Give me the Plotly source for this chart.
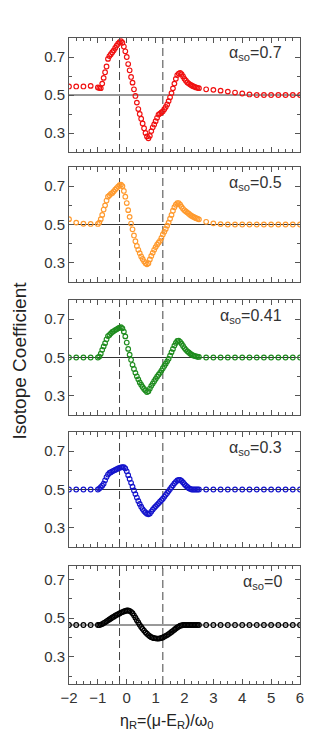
import plotly.graph_objects as go
from plotly.subplots import make_subplots

# shared x grid (eta_R)
eta = [
    -2.0, -1.75, -1.5, -1.25,
    -1.0, -0.95, -0.9, -0.85, -0.8, -0.75, -0.7, -0.65, -0.6, -0.55,
    -0.5, -0.45, -0.4, -0.35, -0.3, -0.25, -0.2, -0.15, -0.1, -0.05,
    0.0, 0.05, 0.1, 0.15, 0.2, 0.25, 0.3, 0.35, 0.4, 0.45,
    0.5, 0.55, 0.6, 0.65, 0.7, 0.75, 0.8, 0.85, 0.9, 0.95,
    1.0, 1.05, 1.1, 1.15, 1.2, 1.25, 1.3, 1.35, 1.4, 1.45,
    1.5, 1.55, 1.6, 1.65, 1.7, 1.75, 1.8, 1.85, 1.9, 1.95,
    2.0, 2.05, 2.1, 2.15, 2.2, 2.25, 2.3, 2.35, 2.4, 2.45, 2.5,
    2.75, 3.0, 3.25, 3.5, 3.75, 4.0, 4.25, 4.5, 4.75, 5.0, 5.25, 5.5, 5.75, 6.0,
]

alpha_07 = [
    0.545, 0.545, 0.545, 0.548,
    0.540, 0.537, 0.536, 0.560, 0.590, 0.620, 0.650, 0.690, 0.705, 0.715,
    0.725, 0.735, 0.748, 0.760, 0.770, 0.778, 0.783, 0.775, 0.755, 0.730,
    0.700, 0.663, 0.630, 0.595, 0.565, 0.530, 0.495, 0.460, 0.426, 0.400,
    0.375, 0.350, 0.325, 0.300, 0.282, 0.272, 0.285, 0.310, 0.330, 0.345,
    0.362, 0.380, 0.397, 0.402, 0.408, 0.414, 0.425, 0.437, 0.450, 0.468,
    0.488, 0.510, 0.535, 0.560, 0.585, 0.605, 0.613, 0.616, 0.610, 0.598,
    0.585, 0.575, 0.566, 0.560, 0.555, 0.550, 0.546, 0.543, 0.540, 0.538, 0.536,
    0.530, 0.527, 0.523, 0.518, 0.513, 0.508, 0.503, 0.500, 0.500, 0.500, 0.500, 0.500, 0.500, 0.500,
]

alpha_05 = [
    0.528, 0.510, 0.504, 0.503,
    0.503, 0.510, 0.528, 0.550, 0.578, 0.600, 0.625, 0.645, 0.652, 0.660,
    0.665, 0.673, 0.682, 0.690, 0.698, 0.705, 0.708, 0.700, 0.675, 0.645,
    0.612, 0.575, 0.540, 0.505, 0.475, 0.443, 0.413, 0.388, 0.368, 0.350,
    0.333, 0.320, 0.308, 0.298, 0.292, 0.298, 0.318, 0.336, 0.352, 0.368,
    0.382, 0.395, 0.405, 0.415, 0.430, 0.448, 0.462, 0.477, 0.494, 0.510,
    0.530, 0.550, 0.572, 0.590, 0.603, 0.612, 0.612, 0.603, 0.592, 0.582,
    0.574, 0.568, 0.562, 0.556, 0.550, 0.545, 0.541, 0.537, 0.533, 0.530, 0.527,
    0.514, 0.506, 0.502, 0.500, 0.500, 0.500, 0.500, 0.500, 0.500, 0.500, 0.500, 0.500, 0.500, 0.500,
]

alpha_041 = [
    0.500, 0.500, 0.500, 0.500,
    0.500, 0.505, 0.520, 0.540, 0.558, 0.575, 0.595, 0.612, 0.618, 0.626,
    0.633, 0.638, 0.643, 0.647, 0.652, 0.656, 0.658, 0.652, 0.635, 0.610,
    0.578, 0.545, 0.515, 0.488, 0.462, 0.440, 0.420, 0.402, 0.386, 0.370,
    0.358, 0.346, 0.336, 0.328, 0.320, 0.324, 0.338, 0.352, 0.364, 0.376,
    0.388, 0.400, 0.410, 0.420, 0.432, 0.444, 0.456, 0.468, 0.480, 0.493,
    0.510, 0.528, 0.545, 0.562, 0.576, 0.586, 0.588, 0.582, 0.572, 0.560,
    0.549, 0.540, 0.532, 0.526, 0.520, 0.515, 0.511, 0.508, 0.506, 0.504, 0.503,
    0.500, 0.500, 0.500, 0.500, 0.500, 0.500, 0.500, 0.500, 0.500, 0.500, 0.500, 0.500, 0.500, 0.500,
]

alpha_03 = [
    0.500, 0.500, 0.500, 0.500,
    0.500, 0.505, 0.512, 0.520, 0.530, 0.548, 0.565, 0.578, 0.586, 0.590,
    0.595, 0.599, 0.602, 0.606, 0.610, 0.613, 0.615, 0.617, 0.617, 0.610,
    0.595, 0.575, 0.555, 0.535, 0.515, 0.495, 0.476, 0.458, 0.440, 0.425,
    0.410, 0.398, 0.388, 0.380, 0.374, 0.371, 0.375, 0.385, 0.395, 0.404,
    0.412, 0.420, 0.428, 0.436, 0.444, 0.452, 0.462, 0.472, 0.482, 0.492,
    0.502, 0.512, 0.522, 0.532, 0.540, 0.547, 0.550, 0.550, 0.545, 0.537,
    0.528, 0.520, 0.513, 0.507, 0.503, 0.500, 0.500, 0.500, 0.500, 0.500, 0.500,
    0.500, 0.500, 0.500, 0.500, 0.500, 0.500, 0.500, 0.500, 0.500, 0.500, 0.500, 0.500, 0.500, 0.500,
]

alpha_0 = [
    0.465, 0.465, 0.465, 0.465,
    0.465, 0.465, 0.467, 0.470, 0.475, 0.479, 0.484, 0.489, 0.494, 0.499,
    0.504, 0.508, 0.513, 0.517, 0.521, 0.525, 0.529, 0.532, 0.535, 0.538,
    0.540, 0.540, 0.538, 0.533, 0.526, 0.515, 0.503, 0.490, 0.478, 0.466,
    0.455, 0.445, 0.436, 0.427, 0.420, 0.413, 0.407, 0.402, 0.399, 0.397,
    0.396, 0.395, 0.395, 0.396, 0.398, 0.401, 0.405, 0.409, 0.413, 0.418,
    0.423, 0.429, 0.435, 0.441, 0.447, 0.452, 0.457, 0.461, 0.463, 0.465,
    0.465, 0.465, 0.465, 0.465, 0.465, 0.465, 0.465, 0.465, 0.465, 0.465, 0.465,
    0.465, 0.465, 0.465, 0.465, 0.465, 0.465, 0.465, 0.465, 0.465, 0.465, 0.465, 0.465, 0.465, 0.465,
]

series = [alpha_07, alpha_05, alpha_041, alpha_03, alpha_0]
alpha_labels = ["0.7", "0.5", "0.41", "0.3", "0"]
colors = ["#f01010", "#ff9a2e", "#1e8c1e", "#1414cc", "#000000"]
ref_levels = [0.5, 0.5, 0.5, 0.5, 0.465]
y_ranges = [[0.2, 0.8], [0.2, 0.8], [0.2, 0.8], [0.2, 0.8], [0.16, 0.77]]
dashed_x = [-0.25, 1.25]

# panel pixel extents (top, bottom) inside a 744px tall page
PANEL_PX = [(30, 144), (159, 274), (292, 407), (424, 539), (558, 676)]
M_T, M_B = 30, 68
PLOT_H = 744 - M_T - M_B
AX = "#555555"

fig = make_subplots(rows=5, cols=1, shared_xaxes=True)

for i, (ys, col) in enumerate(zip(series, colors)):
    r = i + 1
    fig.add_trace(
        go.Scatter(
            x=eta, y=ys, mode="markers",
            marker=dict(symbol="circle-open", size=4.6, color=col, line=dict(width=1.2, color=col)),
            showlegend=False,
        ),
        row=r, col=1,
    )
    fig.add_hline(y=ref_levels[i], line_color="#333333", line_width=1, layer="below", row=r, col=1)
    for xd in dashed_x:
        fig.add_vline(x=xd, line_dash="8px,4px", line_color="#444444", line_width=1,
                      layer="below", row=r, col=1)

    top, bot = PANEL_PX[i]
    dom = [(744 - M_B - bot) / PLOT_H, (744 - M_B - top) / PLOT_H]
    yname = "yaxis" if r == 1 else f"yaxis{r}"
    xname = "xaxis" if r == 1 else f"xaxis{r}"
    fig.layout[yname].update(
        domain=dom, range=y_ranges[i], tick0=0.3, dtick=0.2,
        ticks="inside", ticklen=5, tickcolor=AX,
        minor=dict(dtick=0.1, ticklen=3, tickcolor=AX, ticks="inside"),
        showline=True, linecolor=AX, mirror="ticks", showgrid=False, zeroline=False,
        tickfont=dict(size=15, color="#333333"),
    )
    fig.layout[xname].update(
        range=[-2, 6], dtick=1, ticks="inside", ticklen=5, tickcolor=AX,
        minor=dict(dtick=0.25, ticklen=3, tickcolor=AX, ticks="inside"),
        showline=True, linecolor=AX, mirror="ticks", showgrid=False, zeroline=False,
        showticklabels=(r == 5), tickfont=dict(size=15, color="#333333"),
    )
    sfx = str(r) if r > 1 else ""
    fig.add_annotation(
        x=0.93, y=0.86, xref=f"x{sfx} domain", yref=f"y{sfx} domain",
        text="α<sub>so</sub>=" + alpha_labels[i], showarrow=False,
        xanchor="right", yanchor="middle", font=dict(size=16, color="#333333"),
    )

fig.add_annotation(
    x=-63 / 231, y=0.5, xref="paper", yref="paper", text="Isotope Coefficient",
    textangle=-90, showarrow=False, font=dict(size=19, color="#222222"),
)
fig.add_annotation(
    x=(110 - 61) / 231, y=-37 / PLOT_H, xref="paper", yref="paper",
    text="η<sub>R</sub>=(μ-E<sub>R</sub>)/ω<sub>0</sub>", showarrow=False,
    xanchor="left", yanchor="middle", font=dict(size=16, color="#222222"),
)

fig.update_layout(
    width=331, height=744,
    margin=dict(l=61, r=39, t=M_T, b=M_B),
    paper_bgcolor="white", plot_bgcolor="white",
    font=dict(family="Arial, Liberation Sans, sans-serif"),
)

fig.write_html("out.html")
